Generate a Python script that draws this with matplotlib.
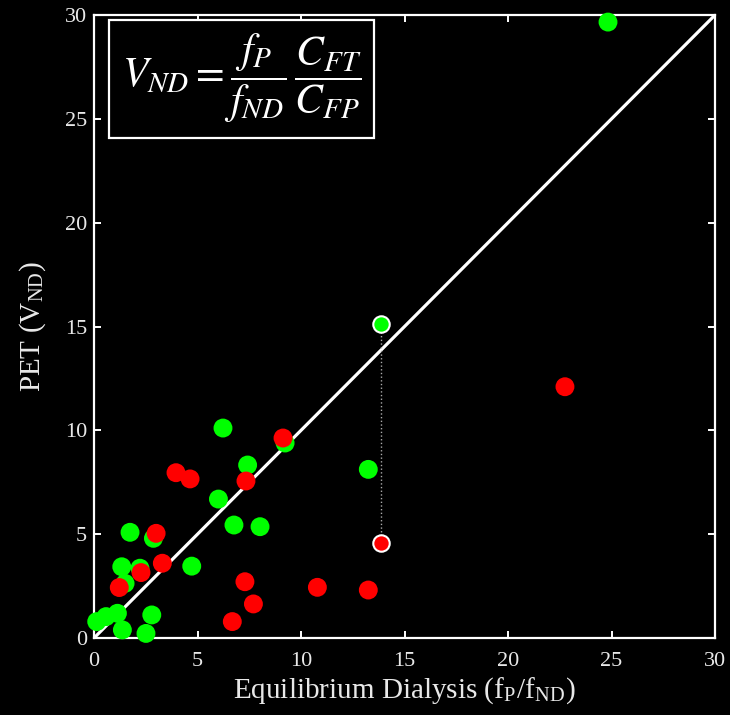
import matplotlib
matplotlib.use('Agg')
import matplotlib.pyplot as plt

# data
green_x = [24.83, 6.23, 9.23, 7.42, 6.01, 6.76, 8.02, 1.74, 2.87, 1.34, 4.72, 2.22,
           1.50, 0.13, 0.58, 1.13, 1.37, 2.51, 2.79, 13.25]
green_y = [29.66, 10.11, 9.39, 8.33, 6.69, 5.44, 5.36, 5.09, 4.80, 3.43, 3.46, 3.36,
           2.63, 0.79, 1.03, 1.19, 0.39, 0.22, 1.11, 8.12]
red_x = [3.96, 4.64, 9.13, 7.34, 3.00, 3.30, 2.27, 1.22, 7.29, 7.70, 6.68, 10.79,
         13.25, 22.75]
red_y = [7.96, 7.66, 9.63, 7.56, 5.04, 3.60, 3.15, 2.43, 2.71, 1.64, 0.79, 2.44,
         2.31, 12.10]
# highlighted pair (same compound, ED vs PET)
hl_x = 13.86
hl_green = 15.10
hl_red = 4.56

ticks = [0, 5, 10, 15, 20, 25, 30]

plt.rcParams['font.family'] = 'Liberation Serif'
plt.rcParams['mathtext.fontset'] = 'stix'

fig = plt.figure(figsize=(7.3, 7.15), dpi=100, facecolor='black')
ax = fig.add_axes([0.1288, 0.1077, 0.8507, 0.8713], facecolor='black')

ax.plot([0, 30], [0, 30], color='white', lw=2.3, zorder=2)
ax.plot([hl_x, hl_x], [hl_red, hl_green], color='#aaaaaa', ls=':', lw=1, zorder=2)

ax.scatter(green_x, green_y, s=185, color='#00ff00', edgecolors='none', zorder=3, clip_on=False)
ax.scatter(red_x, red_y, s=185, color='#ff0000', edgecolors='none', zorder=4, clip_on=False)
ax.scatter([hl_x], [hl_green], s=140, color='#00ff00', edgecolors='white', linewidths=1.5, zorder=5)
ax.scatter([hl_x], [hl_red], s=140, color='#ff0000', edgecolors='white', linewidths=1.5, zorder=5)

ax.set_xlim(0, 30)
ax.set_ylim(0, 30)
ax.set_xticks(ticks)
ax.set_yticks(ticks)
for s in ax.spines.values():
    s.set_color('white')
    s.set_linewidth(1.6)
ax.tick_params(direction='in', top=True, right=True, length=5, width=1.4,
               color='white', labelcolor='#e8e8e8', labelsize=16, pad=5)
ax.tick_params(axis='x', pad=10)

ax.set_xlabel(r'Equilibrium Dialysis (f$_{\mathregular{P}}$/f$_{\mathregular{ND}}$)',
              color='#e8e8e8', fontsize=21, labelpad=3)
ax.set_ylabel(r'PET (V$_{\mathregular{ND}}$)', color='#e8e8e8', fontsize=21, labelpad=12)

ax.text(0.045, 0.972, r'$V_{ND} = \dfrac{f_P}{f_{ND}}\,\dfrac{C_{FT}}{C_{FP}}$',
        transform=ax.transAxes, ha='left', va='top', color='white', fontsize=30,
        bbox=dict(boxstyle='square,pad=0.3', fc='black', ec='white', lw=1.6), zorder=6)

fig.savefig('out.png', dpi=100, facecolor='black')
